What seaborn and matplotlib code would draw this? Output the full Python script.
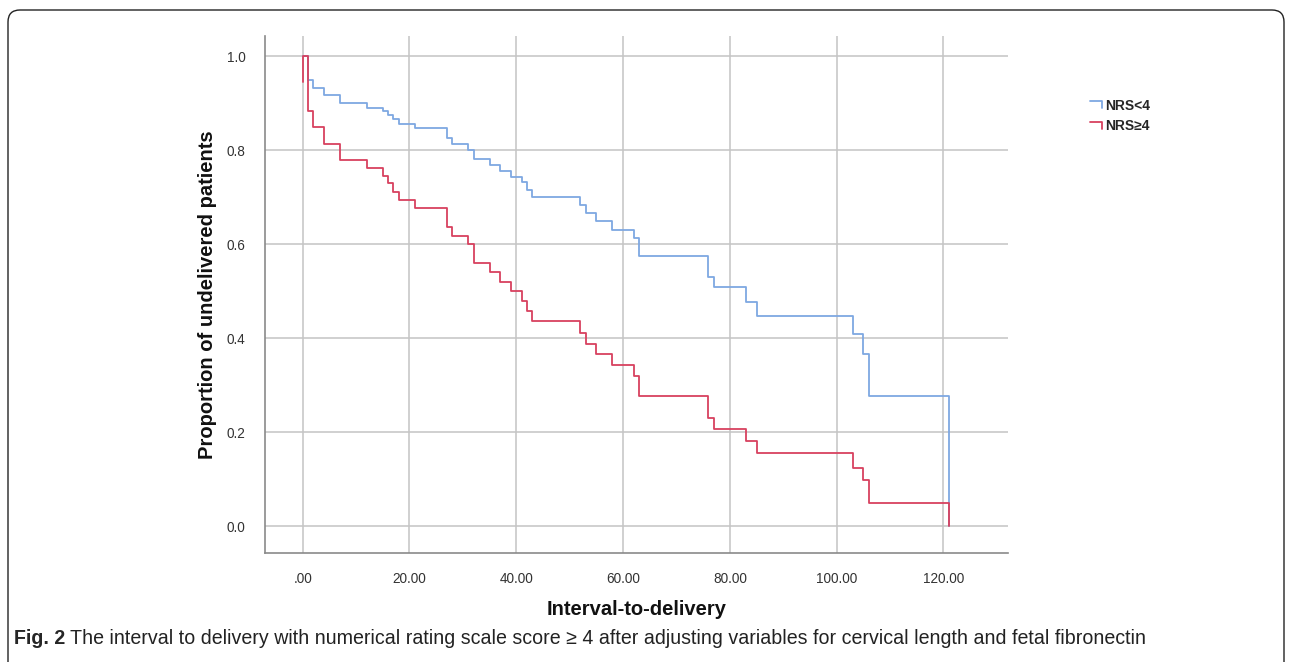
import numpy as np
import pandas as pd
import matplotlib
matplotlib.use('Agg')
import matplotlib.pyplot as plt
import seaborn as sns
from matplotlib.lines import Line2D
from matplotlib.legend_handler import HandlerLine2D
from matplotlib.patches import FancyBboxPatch
from matplotlib.transforms import IdentityTransform

# step times shared by both adjusted curves
times = [0, 1, 2, 4, 7, 12, 15, 16, 17, 18, 21, 27, 28, 31, 32, 35, 37, 39, 41,
         42, 43, 52, 53, 55, 58, 62, 63, 76, 77, 83, 85, 103, 105, 106, 121]
nrs_low = [1.0, 0.949, 0.933, 0.917, 0.899, 0.889, 0.883, 0.875, 0.866, 0.855,
           0.846, 0.825, 0.813, 0.801, 0.780, 0.768, 0.755, 0.743, 0.733, 0.715,
           0.699, 0.683, 0.667, 0.649, 0.630, 0.612, 0.574, 0.530, 0.508, 0.477,
           0.447, 0.408, 0.366, 0.277, 0.0]
nrs_high = [1.0, 0.883, 0.848, 0.813, 0.779, 0.762, 0.745, 0.729, 0.711, 0.694,
            0.676, 0.637, 0.617, 0.600, 0.559, 0.540, 0.520, 0.499, 0.479, 0.458,
            0.436, 0.411, 0.387, 0.365, 0.343, 0.319, 0.277, 0.229, 0.206, 0.180,
            0.155, 0.124, 0.098, 0.050, 0.0]
high_start = 0.945  # little stub drawn at time 0 for the NRS>=4 curve

groups = ['NRS<4', 'NRS≥4']
colors = ['#7ea8e2', '#d8415f']
x_ticks = [0, 20, 40, 60, 80, 100, 120]
x_tick_labels = ['.00', '20.00', '40.00', '60.00', '80.00', '100.00', '120.00']
y_ticks = [0.0, 0.2, 0.4, 0.6, 0.8, 1.0]
y_tick_labels = ['0.0', '0.2', '0.4', '0.6', '0.8', '1.0']

df = pd.concat([
    pd.DataFrame({'time': times, 'prop': nrs_low, 'group': groups[0]}),
    pd.DataFrame({'time': [0] + times, 'prop': [high_start] + nrs_high, 'group': groups[1]}),
], ignore_index=True)

sns.set_style('white')
plt.rcParams['font.family'] = ['Liberation Sans', 'DejaVu Sans']

W, H = 1292, 662
fig = plt.figure(figsize=(W / 100, H / 100), dpi=100)
ax = fig.add_axes([265 / W, 1 - 553 / H, (1008 - 265) / W, (553 - 36) / H])

sns.lineplot(data=df, x='time', y='prop', hue='group', hue_order=groups,
             palette=colors, estimator=None, sort=False, drawstyle='steps-post',
             linewidth=1.3, ax=ax, legend=False)

ax.set_xlim(-7.06, 132.1)
ax.set_ylim(-0.0574, 1.0426)
ax.set_xticks(x_ticks)
ax.set_xticklabels(x_tick_labels)
ax.set_yticks(y_ticks)
ax.set_yticklabels(y_tick_labels)
ax.tick_params(length=0, labelsize=9.8, colors='#333333', pad=14)
ax.tick_params(axis='y', pad=14)
ax.grid(True, color='#c4c4c4', linewidth=1.1)
ax.set_axisbelow(True)
for s in ['top', 'right']:
    ax.spines[s].set_visible(False)
for s in ['left', 'bottom']:
    ax.spines[s].set_color('#8a8a8a')
    ax.spines[s].set_linewidth(1.2)

ax.set_xlabel('Interval-to-delivery', fontsize=14.5, fontweight='bold', labelpad=10, color='#111111')
ax.set_ylabel('Proportion of undelivered patients', fontsize=14.5, fontweight='bold', labelpad=7, color='#111111')


class StepHandler(HandlerLine2D):
    # legend key drawn as a small step: flat line then a drop at the right end
    def create_artists(self, legend, orig_handle, xdescent, ydescent, width, height, fontsize, trans):
        y_top = height * 0.85 - ydescent
        y_bot = height * 0.15 - ydescent
        x0, x1 = -xdescent, -xdescent + width
        line = Line2D([x0, x1, x1], [y_top, y_top, y_bot], color=orig_handle.get_color(),
                      linewidth=orig_handle.get_linewidth(), transform=trans)
        return [line]


handles = [Line2D([], [], color=c, linewidth=1.3) for c in colors]
leg = fig.legend(handles, groups, loc='upper left', bbox_to_anchor=(1077 / W, 1 - 86 / H),
                 frameon=False, handlelength=0.9, handletextpad=0.25, labelspacing=0.5,
                 prop={'size': 10, 'weight': 'bold'},
                 handler_map={Line2D: StepHandler()})

# caption with bold figure number
renderer = fig.canvas.get_renderer()
t1 = fig.text(14 / W, 1 - 638 / H, 'Fig. 2', fontsize=14.1, fontweight='bold', va='center')
bb = t1.get_window_extent(renderer)
fig.text((bb.x1 + 5) / W, 1 - 638 / H,
         'The interval to delivery with numerical rating scale score ≥ 4 after adjusting variables for cervical length and fetal fibronectin',
         fontsize=14.1, va='center', color='#222222')

# outer rounded frame (bottom runs off the image)
frame = FancyBboxPatch((8, -40), W - 16, 692,
                       boxstyle='round,pad=0,rounding_size=12', transform=IdentityTransform(),
                       fill=False, edgecolor='#222222', linewidth=1.0)
fig.patches.append(frame)

fig.savefig('out.png', dpi=100)
